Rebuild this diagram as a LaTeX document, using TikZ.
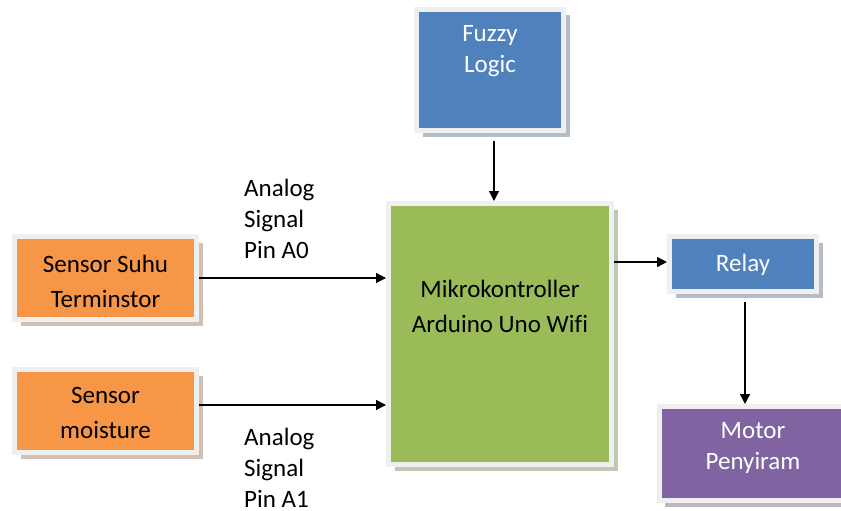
\documentclass[tikz,border=0pt]{standalone}
\usepackage{fontspec}
\setmainfont[Ligatures=NoCommon]{Carlito}
\usetikzlibrary{shadows,arrows.meta}
\definecolor{cblue}{HTML}{4F81BD}
\definecolor{corange}{HTML}{F79646}
\definecolor{cgreen}{HTML}{9BBB59}
\definecolor{cpurple}{HTML}{8064A2}
\definecolor{framegray}{HTML}{EFEFEF}
\begin{document}
\begin{tikzpicture}[x=1pt,y=-1pt,
  box/.style={draw=framegray, line width=5pt, inner sep=0pt, fill=#1,
    drop shadow={shadow xshift=6pt, shadow yshift=-6pt, fill=#1!50!black!35, opacity=1}},
  txt/.style={font=\fontsize{25}{31}\selectfont, align=center, inner sep=0pt},
  txtb/.style={font=\fontsize{25}{35}\selectfont, align=center, inner sep=0pt},
  lbl/.style={font=\fontsize{25}{31}\selectfont, align=left, inner sep=0pt, anchor=west},
  arr/.style={line width=1.3pt, -{Triangle[length=10pt,width=10pt]}}]
\useasboundingbox (0,0) rectangle (841,511);
% boxes (colored area + 5 for frame centre line)
\node[box=cblue, minimum width=147pt, minimum height=121pt] (fuzzy) at (490,70) {};
\node[box=cgreen, minimum width=223pt, minimum height=261pt] (green) at (500,334) {};
\node[box=corange, minimum width=182pt, minimum height=83pt] (suhu) at (105.5,278) {};
\node[box=corange, minimum width=182pt, minimum height=83pt] (moist) at (105.5,411) {};
\node[box=cblue, minimum width=147pt, minimum height=55pt] (relay) at (743,264) {};
\node[box=cpurple, minimum width=189pt, minimum height=94pt] (motor) at (753.5,453.5) {};
% texts
\node[txt, text=white] (fuzzyT) at (490,51) {Fuzzy\\Logic};
\node[txtb] (greenT) at (500,306) {Mikrokontroller\\Arduino Uno Wifi};
\node[txtb] (suhuT) at (105.5,281) {Sensor Suhu\\Terminstor};
\node[txtb] (moistT) at (105.5,413) {Sensor\\moisture};
\node[txt, text=white] (relayT) at (743,265) {Relay};
\node[txt, text=white] (motorT) at (753,448) {Motor\\Penyiram};
\node[lbl] (lblA) at (244,219) {Analog\\Signal\\Pin A0};
\node[lbl] (lblB) at (244,468) {Analog\\Signal\\Pin A1};
% connectors
\coordinate (fout) at ([xshift=4pt,yshift=-8pt]fuzzy.south);
\draw[arr] (fout) -- (fout |- green.north);
\draw[arr] (suhu.east) -- (suhu.east -| green.west);
\coordinate (mout) at ([yshift=6pt]moist.east);
\draw[arr] (mout) -- (mout -| green.west);
\coordinate (rin) at ([yshift=2pt]relay.west);
\draw[arr] (green.east |- rin) -- (rin);
\coordinate (rout) at ([xshift=2pt,yshift=-8pt]relay.south);
\draw[arr] (rout) -- (rout |- motor.north);
\end{tikzpicture}
\end{document}
